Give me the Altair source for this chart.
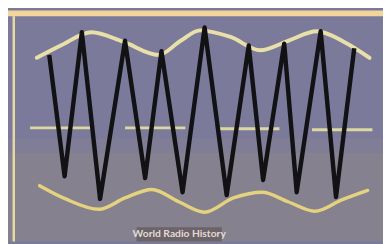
import altair as alt
import pandas as pd

# Reference picture coordinates (pixels, y downward)
zig_x = [43, 59, 77, 96, 122, 143, 160, 182, 205, 228, 251, 266, 288, 301, 326, 342, 361]
zig_y = [47, 175, 23, 199, 32, 177, 43, 192, 18, 195, 37, 179, 35, 192, 22, 197, 40]

top_x = [30, 55, 87, 120, 157, 180, 200, 232, 263, 292, 322, 350, 377]
top_y = [50, 37, 23, 33, 47, 32, 21, 28, 42, 32, 22, 33, 50]

bot_x = [33, 60, 95, 122, 150, 178, 205, 235, 265, 292, 320, 348, 375]
bot_y = [185, 199, 210, 198, 189, 202, 213, 198, 192, 202, 212, 200, 190]

mid_x1 = [23, 122, 220, 317]
mid_x2 = [88, 185, 283, 380]
mid_y = [124, 124, 125, 126]

label_text = ["World Radio History"]

W, H = 383, 236
xs = alt.Scale(domain=[0, 391], nice=False, zero=False)
ys = alt.Scale(domain=[0, 244], nice=False, zero=False, reverse=True)

def X(f="x"):
    return alt.X(f + ":Q", scale=xs, axis=None)

def Y(f="y"):
    return alt.Y(f + ":Q", scale=ys, axis=None)

bands = pd.DataFrame({"x": [0, 0, 0], "x2": [391, 391, 391], "y": [135, 150, 0],
                      "y2": [150, 244, 6], "c": ["#807d96", "#85818f", "#f3d59c"]})
band_layer = alt.Chart(bands).mark_rect().encode(
    x=X(), x2="x2", y=Y(), y2="y2", color=alt.Color("c:N", scale=None))

vline = alt.Chart(pd.DataFrame({"x": [6], "y": [6], "y2": [244]})).mark_rule(
    color="#e6d8a2", strokeWidth=2.5).encode(x=X(), y=Y(), y2="y2")

mid = pd.DataFrame({"x": mid_x1, "x2": mid_x2, "y": mid_y})
mid_layer = alt.Chart(mid).mark_rule(color="#dcd7a0", strokeWidth=3).encode(
    x=X(), x2="x2", y=Y())

top = pd.DataFrame({"x": top_x, "y": top_y})
top_layer = alt.Chart(top).mark_line(color="#e8e0a8", strokeWidth=4, interpolate="monotone",
                                     strokeCap="round").encode(x=X(), y=Y())

bot = pd.DataFrame({"x": bot_x, "y": bot_y})
bot_layer = alt.Chart(bot).mark_line(color="#e5d27e", strokeWidth=3.5, interpolate="monotone",
                                     strokeCap="round").encode(x=X(), y=Y())

zig = pd.DataFrame({"x": zig_x, "y": zig_y, "o": list(range(len(zig_x)))})
zig_layer = alt.Chart(zig).mark_line(color="#121214", strokeWidth=4.5, strokeJoin="round").encode(
    x=X(), y=Y(), order="o:Q")

lab_box = alt.Chart(pd.DataFrame({"x": [134], "x2": [223], "y": [229], "y2": [244]})).mark_rect(
    color="#6a6264", opacity=0.95).encode(x=X(), x2="x2", y=Y(), y2="y2")

lab = alt.Chart(pd.DataFrame({"x": [178.5], "y": [236], "t": label_text})).mark_text(
    font="Lato", fontWeight="bold", fontSize=10.5, color="#e2dada", baseline="middle",
    align="center").encode(x=X(), y=Y(), text="t:N")

chart = alt.layer(band_layer, vline, mid_layer, top_layer, bot_layer, zig_layer, lab_box, lab).properties(
    width=W, height=H, padding=0, background="#7b7a9b",
    autosize=alt.AutoSizeParams(type="none")
).configure_view(stroke=None)

chart.save("out.html", embed_options={"renderer": "svg", "actions": False})
